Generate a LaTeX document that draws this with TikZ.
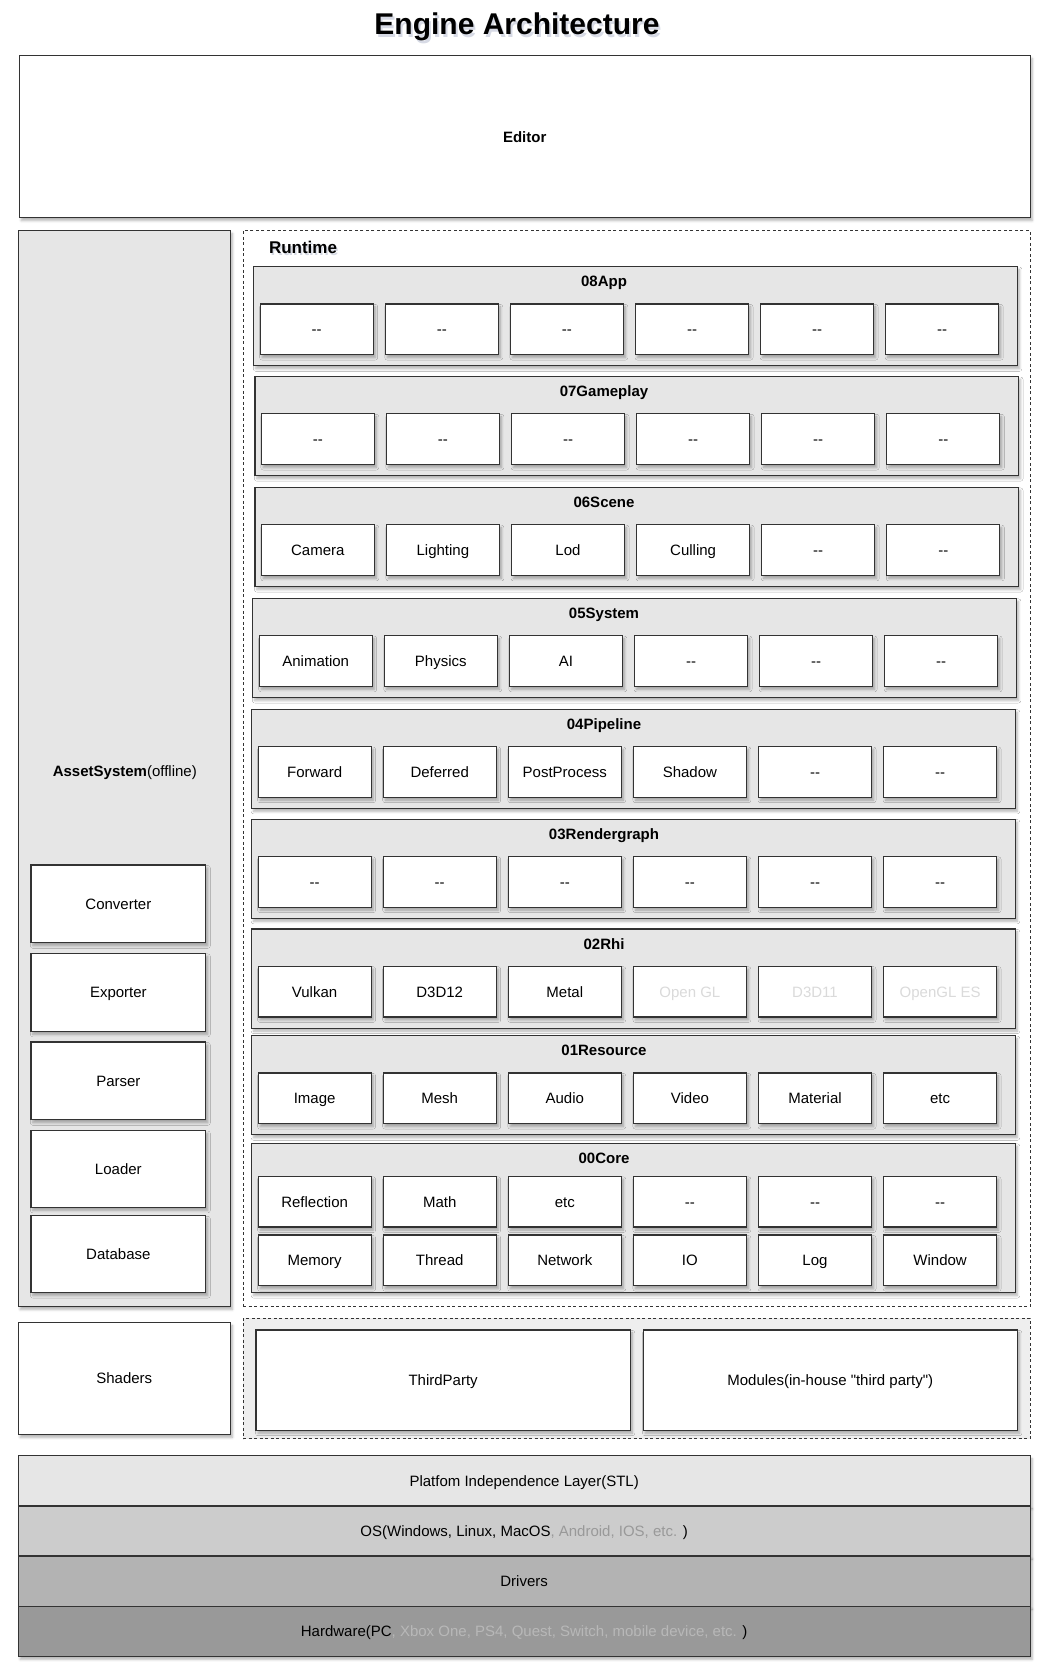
\documentclass[tikz,border=0pt]{standalone}
\usepackage{fontspec}
\setmainfont{Liberation Sans}[Ligatures=TeXOff]
\usetikzlibrary{shadows.blur}

\definecolor{edge}{HTML}{333333}
\definecolor{panel}{HTML}{E6E6E6}
\definecolor{tpfill}{HTML}{EEEEEE}
\definecolor{faint}{HTML}{DADADA}
\definecolor{osgray}{HTML}{999999}
\definecolor{hwgray}{HTML}{B8B8B8}
\definecolor{lvA}{HTML}{E6E6E6}
\definecolor{lvB}{HTML}{CCCCCC}
\definecolor{lvC}{HTML}{B3B3B3}
\definecolor{lvD}{HTML}{999999}
\definecolor{glow}{HTML}{7A86A8}

\tikzset{
  base/.style={draw=edge, line width=1.2pt, inner sep=0pt, outer sep=0pt,
    anchor=center, align=center, text=black, font=\fontsize{15}{17}\selectfont,
    text height=11pt, text depth=0pt},
  sh/.style={blur shadow={shadow xshift=2pt, shadow yshift=-3pt,
    shadow blur radius=2.5pt, shadow opacity=30, shadow blur steps=5}},
  panelbox/.style={base, fill=panel, sh},
  cell/.style={base, fill=white, sh},
  layertitle/.style={font=\bfseries\fontsize{15}{17}\selectfont, inner sep=0pt,
    text height=11pt, text depth=0pt},
  dashframe/.style={draw=edge, line width=1pt, dash pattern=on 3pt off 2.5pt, inner sep=0pt, outer sep=0pt},
  levelbox/.style={base, sh},
}

% box given by its corners: name, style, x1, y1, x2, y2, text
\newcommand{\pbox}[7]{%
  \pgfmathsetmacro{\pcx}{((#3)+(#5))/2}%
  \pgfmathsetmacro{\pcy}{((#4)+(#6))/2}%
  \pgfmathsetmacro{\pw}{(#5)-(#3)}%
  \pgfmathsetmacro{\ph}{(#6)-(#4)}%
  \node[#2, minimum width=\pw pt, minimum height=\ph pt] (#1) at (\pcx,\pcy) {#7};}

% six cells in a row: name prefix, left x, top y, labels
\newcommand{\cellrow}[4]{%
  \foreach \lab [count=\ci] in {#4} {%
    \pgfmathsetmacro{\bx}{(#2)+(\ci-1)*125.1}%
    \pbox{#1-\ci}{cell}{\bx}{#3}{\bx+113}{(#3)+50.7}{\lab}%
  }}

% one runtime layer: name, left x, top y, title, labels
\newcommand{\layer}[5]{%
  \pgfmathsetmacro{\lxr}{(#2)+763.6}%
  \pgfmathsetmacro{\lyb}{(#3)+99.2}%
  \pgfmathsetmacro{\lty}{(#3)+14.6}%
  \pgfmathsetmacro{\lcy}{(#3)+37.3}%
  \pgfmathsetmacro{\lcx}{(#2)+6.4}%
  \pbox{#1}{panelbox}{#2}{#3}{\lxr}{\lyb}{}%
  \node[layertitle] (#1-title) at (604,\lty) {#4};%
  \cellrow{#1}{\lcx}{\lcy}{#5}}

\begin{document}
\begin{tikzpicture}[x=1pt, y=-1pt]
\useasboundingbox (0,0) rectangle (1042,1672);

% title with a soft shadow
\node[font=\bfseries\fontsize{30}{34}\selectfont, text=glow, opacity=0.3] at (519,30) {Engine Architecture};
\node[font=\bfseries\fontsize{30}{34}\selectfont] (title) at (517,27) {Engine Architecture};

% editor
\pbox{editor}{cell}{19.2}{55.5}{1030.2}{217.6}{\textbf{Editor}}

% asset system
\pbox{asset}{panelbox}{18.1}{230.4}{230.4}{1306.5}{}
\node[font=\fontsize{15}{17}\selectfont, inner sep=0pt, text height=11pt, text depth=0pt] (assetlabel) at (124.8,771) {\textbf{AssetSystem}(offline)};
\pbox{converter}{cell}{30.9}{865}{205.8}{942.8}{Converter}
\pbox{exporter}{cell}{30.9}{953.4}{205.8}{1031.3}{Exporter}
\pbox{parser}{cell}{30.9}{1042}{205.8}{1119.8}{Parser}
\pbox{loader}{cell}{30.9}{1130.5}{205.8}{1207.3}{Loader}
\pbox{database}{cell}{30.9}{1215.8}{205.8}{1292.6}{Database}

% runtime frame
\pbox{runtime}{dashframe, fill=white}{243.2}{230.4}{1030.2}{1306.5}{}
\node[font=\bfseries\fontsize{17}{20}\selectfont, text=glow, opacity=0.3, anchor=west, inner sep=0pt] at (270.3,249.9) {Runtime};
\node[font=\bfseries\fontsize{17}{20}\selectfont, anchor=west, inner sep=0pt] (runtimelabel) at (268.8,247.4) {Runtime};

% runtime layers
\layer{app}{253.8}{266.6}{08App}{--,--,--,--,--,--}
\layer{gameplay}{254.9}{376.5}{07Gameplay}{--,--,--,--,--,--}
\layer{scene}{254.9}{487.4}{06Scene}{Camera,Lighting,Lod,Culling,--,--}
\layer{system}{252.8}{598.3}{05System}{Animation,Physics,AI,--,--,--}
\layer{pipeline}{251.7}{709.2}{04Pipeline}{Forward,Deferred,PostProcess,Shadow,--,--}
\layer{rendergraph}{251.7}{819.1}{03Rendergraph}{--,--,--,--,--,--}
\layer{rhi}{251.7}{928.9}{02Rhi}{Vulkan,D3D12,Metal,{\textcolor{faint}{Open GL}},{\textcolor{faint}{D3D11}},{\textcolor{faint}{OpenGL ES}}}
\layer{resource}{251.7}{1035.6}{01Resource}{Image,Mesh,Audio,Video,Material,etc}

% core layer with two rows
\pbox{core}{panelbox}{251.7}{1143.3}{1015.3}{1292.6}{}
\node[layertitle] (core-title) at (604,1157.9) {00Core};
\cellrow{coreA}{258.1}{1176.3}{Reflection,Math,etc,--,--,--}
\cellrow{coreB}{258.1}{1235}{Memory,Thread,Network,IO,Log,Window}

% shaders and third party
\pbox{shaders}{cell}{18.1}{1322.5}{230.4}{1434.4}{Shaders}
\pbox{thirdframe}{dashframe, fill=tpfill}{243.2}{1318.2}{1030.2}{1438.7}{}
\pbox{thirdparty}{cell}{256}{1329.9}{630.3}{1430.2}{ThirdParty}
\pbox{modules}{cell}{643.1}{1329.9}{1017.4}{1430.2}{Modules(in-house "third party")}

% platform levels
\pbox{stl}{levelbox, fill=lvA}{18.1}{1455.8}{1030.2}{1505.9}{Platfom Independence Layer(STL)}
\pbox{os}{levelbox, fill=lvB}{18.1}{1505.9}{1030.2}{1556}{OS(Windows, Linux, MacOS\textcolor{osgray}{, Android, IOS, etc.} )}
\pbox{drivers}{levelbox, fill=lvC}{18.1}{1556}{1030.2}{1606.1}{Drivers}
\pbox{hardware}{levelbox, fill=lvD}{18.1}{1606.1}{1030.2}{1656.3}{Hardware(PC\textcolor{hwgray}{, Xbox One, PS4, Quest, Switch, mobile device, etc.} )}
\end{tikzpicture}
\end{document}
